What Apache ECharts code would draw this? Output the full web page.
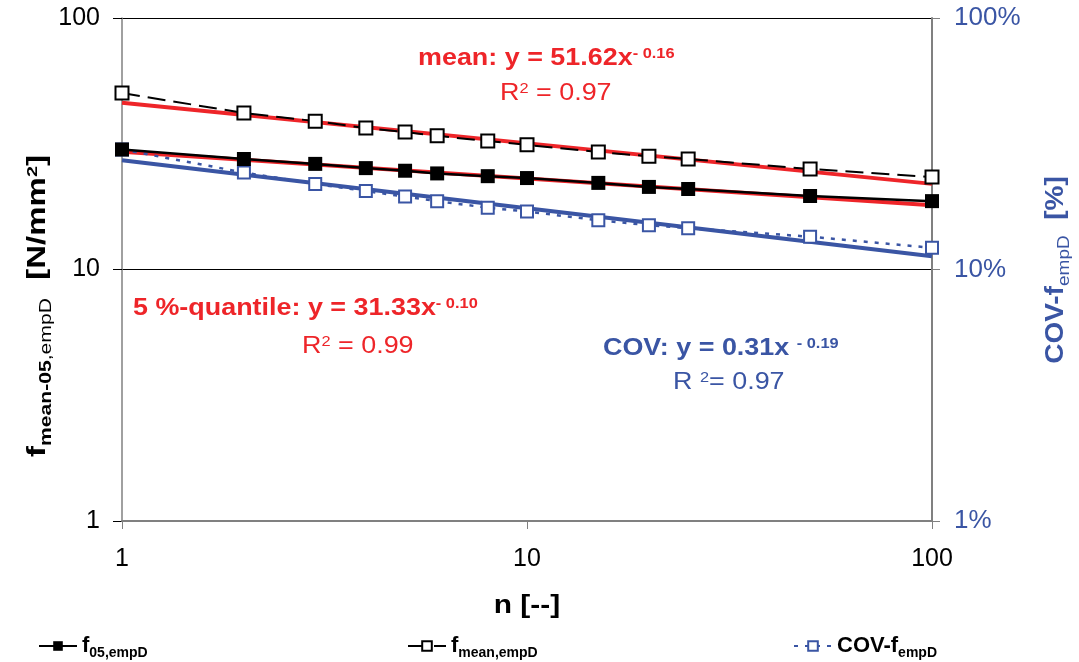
<!DOCTYPE html>
<html>
<head>
<meta charset="utf-8">
<script src="https://cdn.jsdelivr.net/npm/echarts@6/dist/echarts.min.js"></script>
<style>
  html, body { margin: 0; padding: 0; background: #fff; }
  #chart { width: 1079px; height: 662px; }
</style>
</head>
<body>
<div id="chart"></div>
<script type="text/javascript">
    // sample size n
    var nValues = [1, 2, 3, 4, 5, 6, 8, 10, 15, 20, 25, 50, 100];
    // 5%-quantile, N/mm2
    var f05 = [30.0, 27.5, 26.3, 25.3, 24.7, 24.1, 23.5, 23.1, 22.1, 21.3, 20.9, 19.6, 18.7];
    // mean, N/mm2
    var fMean = [50.3, 41.9, 38.9, 36.5, 35.2, 34.0, 32.4, 31.3, 29.3, 28.2, 27.5, 25.1, 23.3];
    // coefficient of variation (fraction)
    var cov = [0.300, 0.243, 0.219, 0.205, 0.195, 0.187, 0.176, 0.170, 0.157, 0.150, 0.146, 0.135, 0.122];
    // power trend lines, end points
    var trendN = [1, 100];
    var f05Trend = [29.4, 18.0];
    var meanTrend = [46.0, 21.9];
    var covTrend = [0.272, 0.113];

    var RED = '#EE2529';
    var BLUE = '#3A55A4';
    var FONT = 'Liberation Sans, Arial, sans-serif';
    var STRETCH = 1.17;   // text in the original is drawn wide

    function pairs(xs, ys) {
        var out = [];
        for (var i = 0; i < xs.length; i++) out.push([xs[i], ys[i]]);
        return out;
    }

    var chart = echarts.init(document.getElementById('chart'));

    var legendRich = {
        f: { fontFamily: FONT, fontSize: 22, fontWeight: 'bold', color: '#000', verticalAlign: 'bottom' },
        s: { fontFamily: FONT, fontSize: 14, fontWeight: 'bold', color: '#000', verticalAlign: 'bottom', padding: [0, 0, -3, 0] }
    };
    var legendText = {
        'f05': '{f|f}{s|05,empD}',
        'fmean': '{f|f}{s|mean,empD}',
        'cov': '{f|COV-f}{s|empD}'
    };
    function legendAt(name, left) {
        return {
            data: [name],
            left: left,
            top: 630,
            itemWidth: 38,
            itemHeight: 12,
            itemGap: 6,
            formatter: function (n) { return legendText[n]; },
            textStyle: { rich: legendRich }
        };
    }

    // rich text with a superscript / subscript part
    function fitText(x, y, text, color, bold) {
        var w = bold ? 'bold ' : '';
        return {
            type: 'text', x: x, y: y, scaleX: STRETCH,
            style: {
                text: text, verticalAlign: 'middle',
                rich: {
                    a: { font: w + '23px ' + FONT, fill: color, verticalAlign: 'bottom' },
                    p: { font: w + '14px ' + FONT, fill: color, verticalAlign: 'top' }
                }
            }
        };
    }

    var option = {
        animation: false,
        grid: { left: 122, right: 147, top: 18, bottom: 141, containLabel: false, outerBoundsMode: 'none' },
        legend: [legendAt('f05', 33), legendAt('fmean', 402), legendAt('cov', 788)],
        xAxis: {
            type: 'log', logBase: 10, min: 1, max: 100, z: 3,
            axisLine: { lineStyle: { color: '#808080', width: 2 } },
            axisTick: { show: true, inside: false, length: 8, lineStyle: { color: '#808080' } },
            minorTick: { show: false },
            splitLine: { show: false },
            axisLabel: { color: '#000', fontFamily: FONT, fontSize: 25, margin: 26 }
        },
        yAxis: [{
            type: 'log', logBase: 10, min: 1, max: 100, position: 'left',
            axisLine: { show: true, lineStyle: { color: '#808080', width: 1.5 } },
            axisTick: { show: true, inside: false, length: 9, lineStyle: { color: '#000' } },
            splitLine: { show: true, lineStyle: { color: '#000', width: 1 } },
            axisLabel: { color: '#000', fontFamily: FONT, fontSize: 25, margin: 22 }
        }, {
            type: 'log', logBase: 10, min: 0.01, max: 1, position: 'right',
            axisLine: { show: true, lineStyle: { color: '#808080', width: 2 } },
            axisTick: { show: true, inside: false, length: 8, lineStyle: { color: '#808080' } },
            splitLine: { show: false },
            axisLabel: {
                color: BLUE, fontFamily: FONT, fontSize: 26, margin: 22,
                formatter: function (v) { return Math.round(v * 100) + '%'; }
            }
        }],
        series: [
            {
                name: 'meanTrend', type: 'line', data: pairs(trendN, meanTrend),
                showSymbol: false, lineStyle: { color: RED, width: 4 }, z: 2
            },
            {
                name: 'f05Trend', type: 'line', data: pairs(trendN, f05Trend),
                showSymbol: false, lineStyle: { color: RED, width: 4 }, z: 2
            },
            {
                name: 'covTrend', type: 'line', yAxisIndex: 1, data: pairs(trendN, covTrend),
                showSymbol: false, lineStyle: { color: BLUE, width: 4 }, z: 2
            },
            {
                name: 'cov', type: 'line', yAxisIndex: 1, data: pairs(nValues, cov),
                symbol: 'emptyRect', symbolSize: 12,
                itemStyle: { color: BLUE, borderColor: BLUE, borderWidth: 1 },
                lineStyle: { color: BLUE, width: 2.5, type: [4, 7] }, z: 3
            },
            {
                name: 'fmean', type: 'line', data: pairs(nValues, fMean),
                symbol: 'emptyRect', symbolSize: 13,
                itemStyle: { color: '#000', borderColor: '#000', borderWidth: 1 },
                lineStyle: { color: '#000', width: 2, type: [18, 8] }, z: 4
            },
            {
                name: 'f05', type: 'line', data: pairs(nValues, f05),
                symbol: 'rect', symbolSize: 14,
                itemStyle: { color: '#000' },
                lineStyle: { color: '#000', width: 2.5 }, z: 4
            }
        ],
        graphic: [
            // x axis title
            {
                type: 'text', x: 527, y: 606, scaleX: 1.15,
                style: { text: 'n [--]', font: 'bold 26px ' + FONT, fill: '#000', align: 'center', verticalAlign: 'middle' }
            },
            // left axis title
            {
                type: 'text', x: 38, y: 306, rotation: Math.PI / 2, scaleX: 1.32,
                style: {
                    text: '{a|f}{b|mean-05}{c|,empD}{a|  [N/mm}{p|2}{a|]}',
                    align: 'center', verticalAlign: 'middle',
                    rich: {
                        a: { font: 'bold 25px ' + FONT, fill: '#000', verticalAlign: 'bottom' },
                        b: { font: 'bold 16px ' + FONT, fill: '#000', verticalAlign: 'bottom', padding: [0, 0, -4, 0] },
                        c: { font: '16px ' + FONT, fill: '#000', verticalAlign: 'bottom', padding: [0, 0, -4, 0] },
                        p: { font: 'bold 15px ' + FONT, fill: '#000', verticalAlign: 'top' }
                    }
                }
            },
            // right axis title
            {
                type: 'text', x: 1056, y: 270, rotation: Math.PI / 2, scaleX: 1.12,
                style: {
                    text: '{a|COV-f}{c|empD}{a|  [%]}',
                    align: 'center', verticalAlign: 'middle',
                    rich: {
                        a: { font: 'bold 25px ' + FONT, fill: BLUE, verticalAlign: 'bottom' },
                        c: { font: '17px ' + FONT, fill: BLUE, verticalAlign: 'bottom', padding: [0, 0, -4, 0] }
                    }
                }
            },
            fitText(418, 59, '{a|mean: y = 51.62x}{p|- 0.16}', RED, true),
            fitText(500, 94, '{a|R}{p|2}{a| = 0.97}', RED, false),
            fitText(133, 309, '{a|5 %-quantile: y = 31.33x}{p|- 0.10}', RED, true),
            fitText(302, 347, '{a|R}{p|2}{a| = 0.99}', RED, false),
            fitText(603, 349, '{a|COV: y = 0.31x }{p|- 0.19}', BLUE, true),
            fitText(673, 383, '{a|R }{p|2}{a|= 0.97}', BLUE, false)
        ]
    };

    chart.setOption(option);
</script>
</body>
</html>
